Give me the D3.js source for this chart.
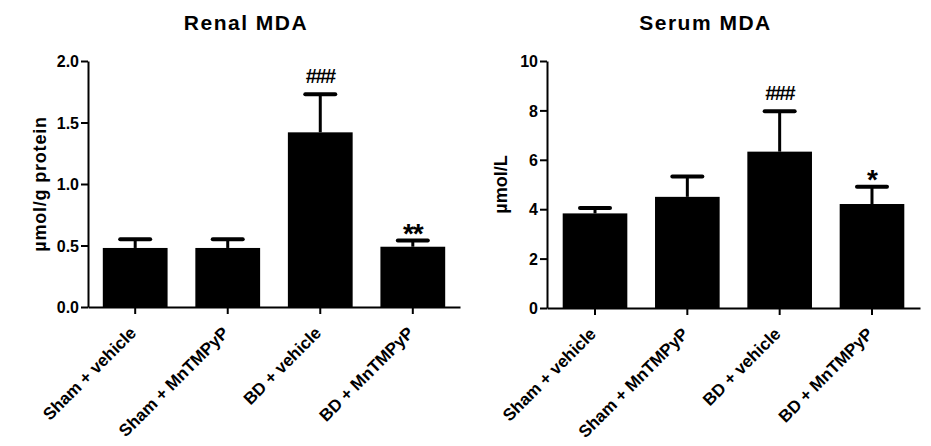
<!DOCTYPE html>
<html>
<head>
<meta charset="utf-8">
<script src="https://cdn.jsdelivr.net/npm/d3@7"></script>
<style>
	body { margin: 0; background: white; }
	text { font-family: Arial, "Liberation Sans", sans-serif; }
</style>
</head>
<body>
<script>

//group names shared by both panels
var groups = ["Sham + vehicle", "Sham + MnTMPyP", "BD + vehicle", "BD + MnTMPyP"];

//renal MDA (umol/g protein): mean and upper SEM
var renalMean = [0.48, 0.48, 1.42, 0.49];
var renalErr = [0.07, 0.07, 0.31, 0.05];
var renalMarks = ["", "", "###", "**"];
var renalTicks = [0, 0.5, 1.0, 1.5, 2.0];

//serum MDA (umol/L)
var serumMean = [3.83, 4.50, 6.33, 4.21];
var serumErr = [0.22, 0.82, 1.64, 0.70];
var serumMarks = ["", "", "###", "*"];
var serumTicks = [0, 2, 4, 6, 8, 10];

var w = 931,
	h = 446;

var svg = d3.select("body").append("svg")
	.attr("width", w)
	.attr("height", h);

svg.append("rect")
	.attr("width", w)
	.attr("height", h)
	.attr("fill", "white");

//draws one bar panel
var draw_panel = function(p){
	var x = d3.scaleBand()
		.domain(groups)
		.range([p.left, p.right])
		.paddingInner(0.3)
		.paddingOuter(p.padOuter);

	var y = d3.scaleLinear()
		.domain([0, p.ticks[p.ticks.length - 1]])
		.range([p.bottom, p.top]);

	var g = svg.append("g");

	//title
	g.append("text")
		.text(p.title)
		.attr("x", (p.left + p.right) / 2 - 28)
		.attr("y", 30)
		.attr("text-anchor", "middle")
		.style("font-size", "21px")
		.style("font-weight", "bold")
		.style("letter-spacing", "1.5px");

	//y label
	g.append("text")
		.text(p.ylabel)
		.attr("transform", "translate(" + p.ylabX + "," + ((p.top + p.bottom) / 2) + ") rotate(-90)")
		.attr("text-anchor", "middle")
		.style("font-size", "18px")
		.style("font-weight", "bold")
		.style("letter-spacing", p.ylabSpace);

	//bars
	g.selectAll(".bar").data(p.mean).enter().append("rect")
		.attr("x", function(d, i){ return x(groups[i]); })
		.attr("y", function(d){ return y(d); })
		.attr("width", x.bandwidth())
		.attr("height", function(d){ return p.bottom - y(d); })
		.attr("fill", "black");

	//upper error bars
	p.mean.forEach(function(m, i){
		var cx = x(groups[i]) + x.bandwidth() / 2;
		var top = y(m + p.err[i]);
		g.append("line")
			.attr("x1", cx).attr("x2", cx)
			.attr("y1", y(m)).attr("y2", top)
			.attr("stroke", "black")
			.attr("stroke-width", 3);
		g.append("line")
			.attr("x1", cx - 15).attr("x2", cx + 15)
			.attr("y1", top).attr("y2", top)
			.attr("stroke", "black")
			.attr("stroke-width", 4)
			.attr("stroke-linecap", "round");

		//significance marks
		if (p.marks[i] == "###") {
			g.append("text")
				.text(p.marks[i])
				.attr("x", cx)
				.attr("y", top - 11)
				.attr("text-anchor", "middle")
				.style("font-size", "20px")
				.style("font-weight", "bold")
				.style("letter-spacing", "-1.5px");
		} else if (p.marks[i] != "") {
			g.append("text")
				.text(p.marks[i])
				.attr("x", cx)
				.attr("y", top + 2)
				.attr("text-anchor", "middle")
				.style("font-size", "28px")
				.style("font-weight", "bold")
				.style("letter-spacing", "-1px");
		}
	});

	//axes
	var yAxis = g.append("g")
		.attr("transform", "translate(" + p.left + ",0)")
		.call(d3.axisLeft(y).tickValues(p.ticks).tickFormat(d3.format(p.fmt)).tickSize(7).tickSizeOuter(0));

	yAxis.selectAll("text")
		.style("font-size", "16px")
		.style("font-weight", "bold")
		.style("font-family", "Arial, 'Liberation Sans', sans-serif")
		.attr("fill", "black")
		.attr("x", -9)
		.attr("dy", "0.36em");

	var xAxis = g.append("g")
		.attr("transform", "translate(0," + p.bottom + ")")
		.call(d3.axisBottom(x).tickSize(7).tickSizeOuter(0));

	xAxis.selectAll("text").remove();

	//rotated group labels
	groups.forEach(function(name){
		var cx = x(name) + x.bandwidth() / 2;
		g.append("text")
			.text(name)
			.attr("text-anchor", "end")
			.attr("transform", "translate(" + (cx + 2) + "," + (p.bottom + 27) + ") rotate(-45)")
			.style("font-size", "17px")
			.style("font-weight", "bold");
	});

	svg.selectAll(".domain, .tick line")
		.attr("stroke", "black")
		.attr("stroke-width", 2);
};

draw_panel({
	title: "Renal MDA",
	ylabel: "\u00b5mol/g protein",
	ylabX: 46,
	ylabSpace: "0.8px",
	left: 88, right: 460, top: 61, bottom: 307, padOuter: 0.16,
	mean: renalMean, err: renalErr, marks: renalMarks,
	ticks: renalTicks, fmt: ".1f"
});

draw_panel({
	title: "Serum MDA",
	ylabel: "\u00b5mol/L",
	ylabX: 507,
	ylabSpace: "0px",
	left: 547, right: 920, top: 61, bottom: 308, padOuter: 0.17,
	mean: serumMean, err: serumErr, marks: serumMarks,
	ticks: serumTicks, fmt: "d"
});

</script>
</body>
</html>
